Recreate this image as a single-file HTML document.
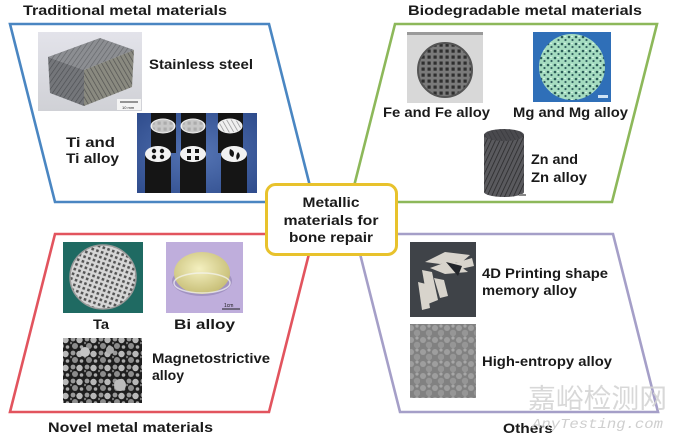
<!DOCTYPE html>
<html><head><meta charset="utf-8"><style>
html,body{margin:0;padding:0;background:#fff;}
svg{display:block;}
text{font-family:"Liberation Sans","Noto Sans CJK SC",sans-serif;font-weight:bold;fill:#1a1a1a;}
</style></head><body>
<svg width="680" height="440" viewBox="0 0 680 440" xmlns="http://www.w3.org/2000/svg">
<defs>
<pattern id="diag" width="4" height="4" patternUnits="userSpaceOnUse" patternTransform="rotate(35)"><rect width="4" height="4" fill="none"/><line x1="0" y1="0" x2="0" y2="4" stroke="#3c3e42" stroke-width="1.3"/></pattern>
<pattern id="diag2" width="4" height="4" patternUnits="userSpaceOnUse" patternTransform="rotate(-30)"><line x1="0" y1="0" x2="0" y2="4" stroke="#2c2c30" stroke-width="1.4"/></pattern>
<pattern id="grid" width="6" height="6" patternUnits="userSpaceOnUse"><rect width="6" height="6" fill="#7a7a7a"/><rect x="1.5" y="1.5" width="3.2" height="3.2" fill="#2e2e2e"/></pattern>
<pattern id="tagrid" width="5" height="5" patternUnits="userSpaceOnUse" patternTransform="rotate(20)"><rect width="5" height="5" fill="#d6d6d6"/><rect x="1" y="1" width="2.6" height="2.6" fill="#555"/></pattern>
<pattern id="speck" width="7" height="7" patternUnits="userSpaceOnUse"><rect width="7" height="7" fill="#a5dcc0"/><circle cx="2" cy="2" r="1.3" fill="#2c5d58"/><circle cx="5.5" cy="5" r="1.1" fill="#315f60"/><circle cx="5" cy="1.5" r="0.7" fill="#e6fff2"/></pattern>
<pattern id="bubbles" width="14" height="14" patternUnits="userSpaceOnUse"><rect width="14" height="14" fill="#1e1e1e"/><circle cx="3" cy="3" r="2.4" fill="#9a9a9a"/><circle cx="9.5" cy="4" r="3.2" fill="#b8b8b8"/><circle cx="5" cy="10" r="3" fill="#8c8c8c"/><circle cx="11.5" cy="11" r="1.8" fill="#aaa"/><circle cx="1" cy="7" r="1.2" fill="#777"/></pattern>
<pattern id="blobs" width="12" height="12" patternUnits="userSpaceOnUse"><rect width="12" height="12" fill="#7e7e7e"/><circle cx="3" cy="4" r="3" fill="#a4a4a4"/><circle cx="9" cy="9" r="3.2" fill="#9a9a9a"/><circle cx="9" cy="2" r="1.6" fill="#b0b0b0"/></pattern>
<pattern id="znp" width="4" height="4" patternUnits="userSpaceOnUse" patternTransform="rotate(25)"><rect width="4" height="4" fill="#5a5a5e"/><line x1="0" y1="0" x2="0" y2="4" stroke="#2a2a2c" stroke-width="1.6"/></pattern>
<linearGradient id="cubebg" x1="0" y1="0" x2="0" y2="1"><stop offset="0" stop-color="#e3e3ea"/><stop offset="1" stop-color="#d0d1d6"/></linearGradient>
<radialGradient id="tibg" cx="0.5" cy="0.5" r="0.7"><stop offset="0" stop-color="#5575b5"/><stop offset="1" stop-color="#2f4c8c"/></radialGradient>
<radialGradient id="lens" cx="0.45" cy="0.4" r="0.6"><stop offset="0" stop-color="#f4f0c0"/><stop offset="1" stop-color="#c8bf78"/></radialGradient>
</defs>

<!-- parallelograms -->
<polygon points="10,24 269,24 314,202 55,202" fill="none" stroke="#4a86c2" stroke-width="2.6"/>
<polygon points="395,24 657,24 612,202 350,202" fill="none" stroke="#8db85a" stroke-width="2.6"/>
<polygon points="55,234 314,234 269,412 10,412" fill="none" stroke="#e2545e" stroke-width="2.6"/>
<polygon points="355,234 613,234 658,412 400,412" fill="none" stroke="#a59fc8" stroke-width="2.6"/>

<!-- titles -->
<text x="23" y="15" font-size="14" textLength="204" lengthAdjust="spacingAndGlyphs">Traditional metal materials</text>
<text x="408" y="15" font-size="14" textLength="234" lengthAdjust="spacingAndGlyphs">Biodegradable metal materials</text>
<text x="48" y="432" font-size="14" textLength="165" lengthAdjust="spacingAndGlyphs">Novel metal materials</text>
<text x="503" y="433" font-size="14" textLength="50" lengthAdjust="spacingAndGlyphs">Others</text>

<!-- stainless cube image -->
<rect x="38" y="32" width="104" height="79" fill="url(#cubebg)"/>
<polygon points="48,57 100,38 134,50 84,70" fill="#8c8e92"/>
<polygon points="48,57 100,38 134,50 84,70" fill="url(#diag)" opacity="0.5"/>
<polygon points="48,57 84,70 84,106 50,93" fill="#74767a"/>
<polygon points="48,57 84,70 84,106 50,93" fill="url(#diag)" opacity="0.7"/>
<polygon points="84,70 134,50 132,87 84,106" fill="#8a8a80"/>
<polygon points="84,70 134,50 132,87 84,106" fill="url(#diag2)" opacity="0.6"/>
<rect x="117" y="99" width="24" height="11" fill="#f4f4f4"/>
<line x1="120" y1="102" x2="138" y2="102" stroke="#333" stroke-width="1"/>
<text x="122" y="109" font-size="4" style="font-weight:normal">10 mm</text>

<!-- Ti image -->
<rect x="137" y="113" width="120" height="80" fill="url(#tibg)"/>
<g fill="#151515">
<rect x="151" y="113" width="25" height="40"/><rect x="181" y="113" width="25" height="40"/><rect x="218" y="113" width="25" height="40"/>
</g>
<g fill="#f0f0f0">
<ellipse cx="163" cy="126" rx="12.5" ry="7.5"/><ellipse cx="193" cy="126" rx="12.5" ry="7.5"/><ellipse cx="230" cy="126" rx="12.5" ry="7.5"/>
</g>
<ellipse cx="163" cy="126" rx="11" ry="6.5" fill="url(#grid)" opacity="0.35"/>
<ellipse cx="193" cy="126" rx="11" ry="6.5" fill="url(#grid)" opacity="0.35"/>
<ellipse cx="230" cy="126" rx="11" ry="6.5" fill="url(#diag2)" opacity="0.5"/>
<g fill="#151515">
<rect x="145" y="153" width="26" height="40"/><rect x="180" y="153" width="26" height="40"/><rect x="221" y="153" width="26" height="40"/>
</g>
<g fill="#f2f2f2">
<ellipse cx="158" cy="154" rx="13" ry="8"/><ellipse cx="193" cy="154" rx="13" ry="8"/><ellipse cx="234" cy="154" rx="13" ry="8"/>
</g>
<g fill="#151515">
<circle cx="154" cy="151" r="2.2"/><circle cx="162" cy="151" r="2.2"/><circle cx="154" cy="157" r="2.2"/><circle cx="162" cy="157" r="2.2"/>
<rect x="187" y="149" width="4" height="4"/><rect x="195" y="149" width="4" height="4"/><rect x="187" y="156" width="4" height="4"/><rect x="195" y="156" width="4" height="4"/>
<path d="M230 149 q6 2 3 8 q-5 -1 -3 -8z"/><path d="M238 152 q4 4 -1 8 q-2 -4 1 -8z"/>
</g>

<text x="149" y="69" font-size="13.5" textLength="104" lengthAdjust="spacingAndGlyphs">Stainless steel</text>
<text x="66" y="147" font-size="13.5" textLength="49" lengthAdjust="spacingAndGlyphs">Ti  and</text>
<text x="66" y="163" font-size="13.5" textLength="53" lengthAdjust="spacingAndGlyphs">Ti alloy</text>

<!-- Fe image -->
<rect x="407" y="32" width="76" height="71" fill="#d8d8d8"/>
<rect x="407" y="32" width="76" height="3" fill="#9a9a9a"/>
<circle cx="445" cy="70" r="27" fill="url(#grid)"/>
<circle cx="445" cy="70" r="27" fill="none" stroke="#555" stroke-width="2"/>

<!-- Mg image -->
<rect x="533" y="32" width="78" height="70" fill="#2f6fb8"/>
<circle cx="572" cy="67" r="33" fill="url(#speck)"/>
<rect x="598" y="95" width="10" height="3" fill="#cfe3f5"/>

<text x="383" y="117" font-size="13.5" textLength="107" lengthAdjust="spacingAndGlyphs">Fe and Fe alloy</text>
<text x="513" y="117" font-size="13.5" textLength="115" lengthAdjust="spacingAndGlyphs">Mg and Mg alloy</text>

<!-- Zn cylinder -->
<rect x="484" y="135" width="40" height="57" fill="url(#znp)"/>
<ellipse cx="504" cy="192" rx="20" ry="5" fill="url(#znp)"/>
<ellipse cx="504" cy="135" rx="20" ry="6" fill="#4a4a4e"/>
<ellipse cx="504" cy="135" rx="20" ry="6" fill="url(#diag2)" opacity="0.6"/>
<rect x="519" y="194" width="7" height="2" fill="#888"/>

<text x="531" y="164" font-size="13.5" textLength="47" lengthAdjust="spacingAndGlyphs">Zn and</text>
<text x="531" y="182" font-size="13.5" textLength="56" lengthAdjust="spacingAndGlyphs">Zn alloy</text>

<!-- Ta -->
<rect x="63" y="242" width="80" height="71" fill="#1f6a62"/>
<ellipse cx="103" cy="277" rx="33" ry="32" fill="url(#tagrid)"/>
<ellipse cx="103" cy="277" rx="33" ry="32" fill="none" stroke="#9a9a9a" stroke-width="1.5"/>

<!-- Bi -->
<rect x="166" y="242" width="77" height="71" fill="#bfaedc"/>
<ellipse cx="202" cy="281" rx="30" ry="15" fill="#8f80b0" opacity="0.6"/>
<ellipse cx="202" cy="273" rx="28" ry="21" fill="url(#lens)"/>
<ellipse cx="202" cy="283" rx="28" ry="10" fill="none" stroke="#f5f5f5" stroke-width="1.5" opacity="0.7"/>
<line x1="222" y1="309" x2="240" y2="309" stroke="#222" stroke-width="1"/>
<text x="224" y="307" font-size="5" style="font-weight:normal">1cm</text>

<text x="93" y="329" font-size="13.5" textLength="16" lengthAdjust="spacingAndGlyphs">Ta</text>
<text x="174" y="329" font-size="13.5" textLength="61" lengthAdjust="spacingAndGlyphs">Bi  alloy</text>

<!-- Magnetostrictive -->
<rect x="63" y="338" width="79" height="65" fill="url(#bubbles)"/>
<circle cx="85" cy="352" r="5" fill="#c4c4c4"/><circle cx="120" cy="385" r="6" fill="#bcbcbc"/><circle cx="110" cy="350" r="4" fill="#aaa"/>

<text x="152" y="363" font-size="13.5" textLength="118" lengthAdjust="spacingAndGlyphs">Magnetostrictive</text>
<text x="152" y="380" font-size="13.5" textLength="32" lengthAdjust="spacingAndGlyphs">alloy</text>

<!-- 4D -->
<rect x="410" y="242" width="66" height="75" fill="#3f4348"/>
<g fill="#d8d4cc">
<polygon points="425,262 445,252 470,255 462,262 440,264"/>
<polygon points="430,268 452,260 468,272 445,274"/>
<polygon points="422,270 432,272 438,300 428,304"/>
<polygon points="434,278 444,280 448,296 440,298"/>
<polygon points="418,282 426,284 430,308 422,310"/>
<polygon points="452,264 472,258 474,266 456,270"/>
</g>
<polygon points="446,262 462,266 458,276" fill="#22252a"/>

<!-- High entropy -->
<rect x="410" y="324" width="66" height="74" fill="url(#blobs)"/>
<rect x="410" y="324" width="66" height="74" fill="#8a8a8a" opacity="0.25"/>

<text x="482" y="278" font-size="13.5" textLength="126" lengthAdjust="spacingAndGlyphs">4D Printing shape</text>
<text x="482" y="295" font-size="13.5" textLength="95" lengthAdjust="spacingAndGlyphs">memory alloy</text>
<text x="482" y="366" font-size="13.5" textLength="130" lengthAdjust="spacingAndGlyphs">High-entropy alloy</text>

<!-- center box -->
<rect x="266.5" y="184.5" width="130" height="70" rx="9" ry="9" fill="#fff" stroke="#e8c22c" stroke-width="3"/>
<text x="331" y="207" font-size="14" text-anchor="middle" textLength="57" lengthAdjust="spacingAndGlyphs">Metallic</text>
<text x="331" y="225" font-size="14" text-anchor="middle" textLength="95" lengthAdjust="spacingAndGlyphs">materials for</text>
<text x="331" y="242" font-size="14" text-anchor="middle" textLength="84" lengthAdjust="spacingAndGlyphs">bone repair</text>

<!-- watermark -->
<text x="528" y="408" font-size="27" textLength="139" lengthAdjust="spacingAndGlyphs" style="font-family:'Noto Sans CJK SC',sans-serif;font-weight:normal;fill:#d4d4d4;opacity:0.9">嘉峪检测网</text>
<text x="532" y="428" font-size="14" textLength="131" lengthAdjust="spacingAndGlyphs" style="font-family:'Liberation Mono',monospace;font-style:italic;font-weight:normal;fill:#cfcfcf">AnyTesting.com</text>
</svg>
</body></html>
